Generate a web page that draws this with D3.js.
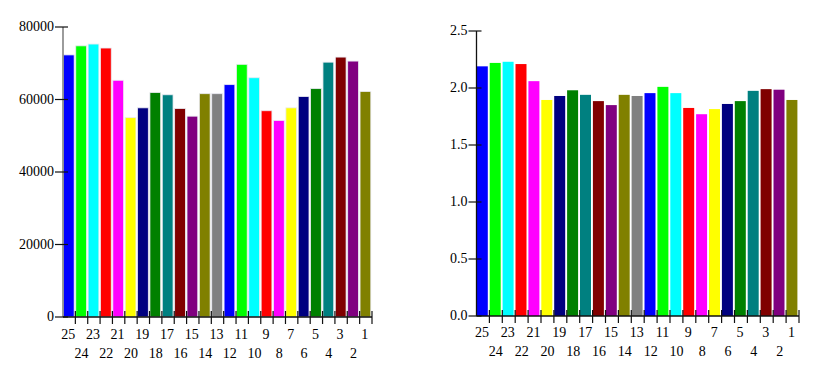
<!DOCTYPE html>
<html>
<head>
<meta charset="utf-8">
<script src="https://cdn.jsdelivr.net/npm/d3@7"></script>
<style>
  html, body { margin: 0; padding: 0; background: #ffffff; }
  svg { display: block; }
  text { font-family: "Liberation Serif", "Times New Roman", serif; font-size: 14px; fill: #000; }
</style>
</head>
<body>
<svg id="chart" width="834" height="378"></svg>
<script>
// ---- data ----
const categories = ["25","24","23","22","21","20","19","18","17","16","15","14","13","12","11","10","9","8","7","6","5","4","3","2","1"];
const leftValues = [72300, 74800, 75300, 74200, 65300, 55000, 57700, 61900, 61300, 57500, 55400, 61600, 61600, 64100, 69700, 66000, 56900, 54200, 57700, 60800, 63000, 70300, 71700, 70600, 62200];
const rightValues = [2.19, 2.22, 2.23, 2.21, 2.06, 1.895, 1.93, 1.98, 1.94, 1.885, 1.85, 1.94, 1.93, 1.955, 2.01, 1.955, 1.825, 1.77, 1.815, 1.86, 1.885, 1.975, 1.99, 1.985, 1.895];
const barColors = ["#0000ff","#00ff00","#00ffff","#ff0000","#ff00ff","#ffff00","#000080","#008000","#008080","#800000","#800080","#808000","#808080",
                   "#0000ff","#00ff00","#00ffff","#ff0000","#ff00ff","#ffff00","#000080","#008000","#008080","#800000","#800080","#808000"];
const leftTicks = [0, 20000, 40000, 60000, 80000];
const rightTicks = [0, 0.5, 1.0, 1.5, 2.0, 2.5];

const svg = d3.select("#chart");

function drawChart(cfg) {
  const g = svg.append("g");
  const x = d3.scaleBand().domain(categories).range([cfg.x0, cfg.x1]).padding(0);
  const y = d3.scaleLinear().domain(cfg.domain).range([cfg.yBottom, cfg.yTop]);
  const step = x.step();

  // bars
  g.selectAll("rect.bar").data(cfg.values).enter().append("rect")
    .attr("class", "bar")
    .attr("x", (d, i) => x(categories[i]) + cfg.padL)
    .attr("width", step - cfg.padL - cfg.padR)
    .attr("y", d => y(d))
    .attr("height", d => y(0) - y(d))
    .attr("fill", (d, i) => barColors[i])
    .attr("stroke", cfg.barStroke)
    .attr("stroke-width", cfg.barStroke === "none" ? 0 : 0.8);

  // y axis line
  g.append("line")
    .attr("x1", cfg.x0).attr("x2", cfg.x0)
    .attr("y1", y(cfg.domain[1])).attr("y2", y(0))
    .attr("stroke", cfg.axisColor).attr("stroke-width", 1.3);

  // y ticks
  cfg.yTicks.forEach(t => {
    g.append("line")
      .attr("x1", cfg.x0 - 8).attr("x2", cfg.x0 + 5)
      .attr("y1", y(t)).attr("y2", y(t))
      .attr("stroke", "#111").attr("stroke-width", 1.2);
    g.append("text")
      .attr("x", cfg.x0 - 9).attr("y", y(t)).attr("dy", "0.32em")
      .attr("text-anchor", "end")
      .text(cfg.fmt(t));
  });

  // x axis line
  g.append("line")
    .attr("x1", cfg.x0).attr("x2", cfg.x1)
    .attr("y1", y(0)).attr("y2", y(0))
    .attr("stroke", "#111").attr("stroke-width", 1.3);

  // x ticks at band boundaries
  categories.forEach(c => {
    const xt = x(c) + step;
    g.append("line")
      .attr("x1", xt).attr("x2", xt)
      .attr("y1", y(0) - 6).attr("y2", y(0) + 7)
      .attr("stroke", "#111").attr("stroke-width", 1.2);
  });

  // x labels, alternating rows
  categories.forEach((c, i) => {
    g.append("text")
      .attr("x", x(c) + step / 2 + (i % 2 === 0 ? -1 : 0))
      .attr("y", y(0) + (i % 2 === 0 ? cfg.row1 : cfg.row2))
      .attr("dy", "0.35em")
      .attr("text-anchor", "middle")
      .text(c);
  });
}

drawChart({
  x0: 63, x1: 372, yBottom: 317, yTop: 27, domain: [0, 80000],
  values: leftValues, yTicks: leftTicks, fmt: d => String(d),
  padL: 0.4, padR: 1.2, barStroke: "#eaeaf2", axisColor: "#666",
  row1: 17, row2: 36
});

drawChart({
  x0: 476.5, x1: 799, yBottom: 316, yTop: 31, domain: [0, 2.5],
  values: rightValues, yTicks: rightTicks, fmt: d3.format(".1f"),
  padL: 0.3, padR: 1.6, barStroke: "none", axisColor: "#111",
  row1: 16, row2: 35
});
</script>
</body>
</html>
